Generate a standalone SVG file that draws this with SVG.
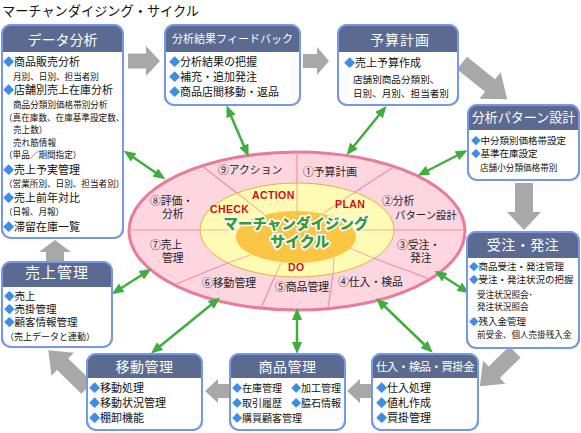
<svg xmlns="http://www.w3.org/2000/svg" width="581" height="433" viewBox="0 0 581 433">
<style>
text{font-family:'Noto Sans CJK JP','Noto Sans',sans-serif}
.box{fill:#fff;stroke:#7598e8;stroke-width:2}
.frame{fill:none;stroke:#7598e8;stroke-width:2}
.hdr{fill:#5a6a91}
.ht{fill:#fff;text-anchor:middle}
.t{fill:#111;font-size:11px}
.t10{fill:#111;font-size:10px}
.t95{fill:#111;font-size:9.5px}
.s{fill:#111;font-size:8.6px}
.d{fill:#3a8ee6}
.ga{fill:#a8a8a8}
.gl{stroke:#3fae3f;stroke-width:2.5;fill:none;marker-start:url(#ah);marker-end:url(#ah)}
.rl{stroke:#ee8fa8;stroke-width:1.2;fill:none}
.rl2{stroke:#f3b59a;stroke-width:1.1;fill:none}
.pl{fill:#222;font-size:10.8px}
.red{fill:#c8101e;font-family:'Liberation Sans',Arial,sans-serif;font-weight:bold;font-size:10.5px;letter-spacing:0.4px}
.ct{fill:#3a9a35;stroke:#fff;stroke-width:3.2;paint-order:stroke;font-weight:900;font-size:15px;text-anchor:middle;stroke-linejoin:round}
</style>
<defs>
<marker id="ah" viewBox="0 0 12 10" refX="8" refY="5" markerWidth="12" markerHeight="10" markerUnits="userSpaceOnUse" orient="auto-start-reverse">
<path d="M0,0 L12,5 L0,10 z" fill="#3fae3f"/>
</marker>
</defs>

<text x="2" y="15.5" font-size="13.2" fill="#111">マーチャンダイジング・サイクル</text>

<!-- gray flow arrows -->
<g id="flow">
<polygon class="ga" transform="translate(128,61)" points="0,-7.5 18,-7.5 18,-15 32,0 18,15 18,7.5 0,7.5"/>
<polygon class="ga" transform="translate(303,61)" points="0,-7 14,-7 14,-14 26,0 14,14 14,7 0,7"/>
<polygon class="ga" transform="translate(462,63) rotate(38.8)" points="0,-8 36,-8 36,-17 58,0 36,17 36,8 0,8"/>
<polygon class="ga" transform="translate(524,183) rotate(90)" points="0,-9 29,-9 29,-17 47,0 29,17 29,9 0,9"/>
<polygon class="ga" transform="translate(515,352) rotate(135.8)" points="0,-8 29,-8 29,-16 49,0 29,16 29,8 0,8"/>
<polygon class="ga" transform="translate(372,391) rotate(180)" points="0,-7 12,-7 12,-12 25,0 12,12 12,7 0,7"/>
<polygon class="ga" transform="translate(230,391) rotate(180)" points="0,-7 12,-7 12,-12 25,0 12,12 12,7 0,7"/>
<polygon class="ga" transform="translate(87,388) rotate(224.3)" points="0,-8 34,-8 34,-16 54,0 34,16 34,8 0,8"/>
<polygon class="ga" transform="translate(55,262) rotate(-90)" points="0,-9 10,-9 10,-16 22,0 10,16 10,9 0,9"/>
</g>

<!-- central cycle -->
<g id="cycle">
<ellipse cx="297" cy="231" rx="168" ry="79" fill="#fdd6e0" stroke="#e97c9b" stroke-width="3"/>
<ellipse cx="297" cy="230" rx="97" ry="47" fill="#fffab4" stroke="#e2b43c" stroke-width="1"/>
<path class="rl" d="M202,166 L237,193 M297,152 L297,183 M392,168 L355,192 M465,230 L394,230 M430,279 L373,258 M328,308 L333,274 M261,308 L275,276 M176,284 L228,263 M130,230 L200,230"/>
<path class="rl2" d="M237,193 L264,214 M297,183 L297,211 M355,192 L324,213 M394,230 L356,230 M373,258 L350,248 M333,274 L334,258 M275,276 L281,263 M228,263 L250,255 M200,230 L238,230"/>
<ellipse cx="296" cy="237" rx="60" ry="26" fill="#fbc643"/>
<text class="pl" x="218" y="174">⑨アクション</text>
<text class="pl" x="303" y="176">①予算計画</text>
<text class="pl" x="382" y="205">②分析</text>
<text class="pl" x="395" y="219" style="font-size:10.4px">パターン設計</text>
<text class="pl" x="397" y="249">③受注・</text>
<text class="pl" x="410" y="262">発注</text>
<text class="pl" x="338" y="286">④仕入・検品</text>
<text class="pl" x="275" y="291">⑤商品管理</text>
<text class="pl" x="202" y="287">⑥移動管理</text>
<text class="pl" x="150" y="249">⑦売上</text>
<text class="pl" x="162" y="262">管理</text>
<text class="pl" x="150" y="205">⑧評価・</text>
<text class="pl" x="162" y="218">分析</text>
<text class="red" x="252" y="199">ACTION</text>
<text class="red" x="210" y="213">CHECK</text>
<text class="red" x="335" y="208">PLAN</text>
<text class="red" x="288" y="271">DO</text>
<text class="ct" x="296" y="229" style="font-size:14.5px">マーチャンダイジング</text>
<text class="ct" x="300" y="247">サイクル</text>
</g>

<!-- green connectors -->
<g id="connectors">
<line class="gl" x1="127" y1="153" x2="162" y2="177"/>
<line class="gl" x1="228" y1="109" x2="247" y2="153"/>
<line class="gl" x1="384" y1="109" x2="349" y2="152"/>
<line class="gl" x1="464" y1="152" x2="421" y2="174"/>
<line class="gl" x1="438" y1="273" x2="466" y2="291"/>
<line class="gl" x1="379" y1="301" x2="430" y2="350"/>
<line class="gl" x1="297" y1="312" x2="297" y2="350"/>
<line class="gl" x1="217" y1="300" x2="154" y2="351"/>
<line class="gl" x1="115" y1="292" x2="148" y2="271"/>
</g>

<g id="data-analysis">
<rect class="box" x="2" y="25" width="121" height="213" rx="9"/>
<path class="hdr" d="M2,52 V34 Q2,25 11,25 H114 Q123,25 123,34 V52 Z"/>
<rect class="frame" x="2" y="25" width="121" height="213" rx="9"/>
<text class="ht" x="62.5" y="45" font-size="14">データ分析</text>
<text class="t" x="3" y="66"><tspan class="d">◆</tspan>商品販売分析</text>
<text class="s" x="13" y="80">月別、日別、担当者別</text>
<text class="t" x="3" y="94"><tspan class="d">◆</tspan>店舗別売上在庫分析</text>
<text class="s" x="13" y="108">商品分類別価格帯別分析</text>
<text class="s" x="4" y="121">（真在庫数、在庫基準設定数、</text>
<text class="s" x="13" y="133">売上数）</text>
<text class="s" x="13" y="146">売れ筋情報</text>
<text class="s" x="4" y="158">（単品／期間指定）</text>
<text class="t" x="3" y="174"><tspan class="d">◆</tspan>売上予実管理</text>
<text class="s" x="4" y="187">（営業所別、日別、担当者別）</text>
<text class="t" x="3" y="202"><tspan class="d">◆</tspan>売上前年対比</text>
<text class="s" x="4" y="215">（日報、月報）</text>
<text class="t" x="3" y="231"><tspan class="d">◆</tspan>滞留在庫一覧</text>
</g>

<g id="feedback">
<rect class="box" x="165" y="25" width="135" height="80" rx="9"/>
<path class="hdr" d="M165,52 V34 Q165,25 174,25 H291 Q300,25 300,34 V52 Z"/>
<rect class="frame" x="165" y="25" width="135" height="80" rx="9"/>
<text class="ht" x="232.5" y="43" font-size="11">分析結果フィードバック</text>
<text class="t" x="169" y="66"><tspan class="d">◆</tspan>分析結果の把握</text>
<text class="t" x="169" y="81"><tspan class="d">◆</tspan>補充・追加発注</text>
<text class="t" x="169" y="96"><tspan class="d">◆</tspan>商品店間移動・返品</text>
</g>

<g id="budget">
<rect class="box" x="338" y="25" width="120" height="80" rx="9"/>
<path class="hdr" d="M338,52 V34 Q338,25 347,25 H449 Q458,25 458,34 V52 Z"/>
<rect class="frame" x="338" y="25" width="120" height="80" rx="9"/>
<text class="ht" x="400" y="45" font-size="14" letter-spacing="1">予算計画</text>
<text class="t" x="344" y="67"><tspan class="d">◆</tspan>売上予算作成</text>
<text class="t" x="353" y="83" style="font-size:9.6px">店舗別商品分類別、</text>
<text class="t" x="353" y="97" style="font-size:9.6px">日別、月別、担当者別</text>
</g>

<g id="pattern">
<rect class="box" x="468" y="105" width="111" height="75" rx="9"/>
<path class="hdr" d="M468,130 V114 Q468,105 477,105 H570 Q579,105 579,114 V130 Z"/>
<rect class="frame" x="468" y="105" width="111" height="75" rx="9"/>
<text class="ht" x="523.5" y="122" font-size="13">分析パターン設計</text>
<text class="t95" x="471" y="144"><tspan class="d">◆</tspan>中分類別価格帯設定</text>
<text class="t95" x="471" y="157"><tspan class="d">◆</tspan>基準在庫設定</text>
<text class="s" x="480" y="171">店舗小分類価格帯別</text>
</g>

<g id="order">
<rect class="box" x="467" y="232" width="112" height="116" rx="9"/>
<path class="hdr" d="M467,258 V241 Q467,232 476,232 H570 Q579,232 579,241 V258 Z"/>
<rect class="frame" x="467" y="232" width="112" height="116" rx="9"/>
<text class="ht" x="523" y="250" font-size="14" letter-spacing="0.5">受注・発注</text>
<text class="t95" x="469" y="270"><tspan class="d">◆</tspan>商品受注・発注管理</text>
<text class="t95" x="469" y="283"><tspan class="d">◆</tspan>受注・発注状況の把握</text>
<text class="s" x="477" y="298">受注状況照会･</text>
<text class="s" x="477" y="310">発注状況照会</text>
<text class="t95" x="469" y="325"><tspan class="d">◆</tspan>残入金管理</text>
<text class="s" x="477" y="338">前受金、個人売掛残入金</text>
</g>

<g id="sales">
<rect class="box" x="2" y="262" width="110" height="85" rx="9"/>
<path class="hdr" d="M2,287 V271 Q2,262 11,262 H103 Q112,262 112,271 V287 Z"/>
<rect class="frame" x="2" y="262" width="110" height="85" rx="9"/>
<text class="ht" x="57" y="278" font-size="15" letter-spacing="1">売上管理</text>
<text class="t" x="4" y="300" style="font-size:10.5px"><tspan class="d">◆</tspan>売上</text>
<text class="t" x="4" y="313" style="font-size:10.5px"><tspan class="d">◆</tspan>売掛管理</text>
<text class="t" x="4" y="326" style="font-size:10.5px"><tspan class="d">◆</tspan>顧客情報管理</text>
<text class="s" x="5" y="340" style="font-size:9px">（売上データと連動）</text>
</g>

<g id="transfer">
<rect class="box" x="87" y="354" width="115" height="76" rx="9"/>
<path class="hdr" d="M87,378 V363 Q87,354 96,354 H193 Q202,354 202,363 V378 Z"/>
<rect class="frame" x="87" y="354" width="115" height="76" rx="9"/>
<text class="ht" x="144.5" y="372" font-size="14" letter-spacing="0.5">移動管理</text>
<text class="t" x="89" y="392"><tspan class="d">◆</tspan>移動処理</text>
<text class="t" x="89" y="407"><tspan class="d">◆</tspan>移動状況管理</text>
<text class="t" x="89" y="422"><tspan class="d">◆</tspan>棚卸機能</text>
</g>

<g id="product">
<rect class="box" x="230" y="354" width="115" height="76" rx="9"/>
<path class="hdr" d="M230,378 V363 Q230,354 239,354 H336 Q345,354 345,363 V378 Z"/>
<rect class="frame" x="230" y="354" width="115" height="76" rx="9"/>
<text class="ht" x="287.5" y="372" font-size="14" letter-spacing="0.5">商品管理</text>
<text class="t10" x="232" y="392"><tspan class="d">◆</tspan>在庫管理</text>
<text class="t10" x="291" y="392"><tspan class="d">◆</tspan>加工管理</text>
<text class="t10" x="232" y="407"><tspan class="d">◆</tspan>取引履歴</text>
<text class="t10" x="291" y="407"><tspan class="d">◆</tspan>脇石情報</text>
<text class="t10" x="232" y="422"><tspan class="d">◆</tspan>購買顧客管理</text>
</g>

<g id="purchase">
<rect class="box" x="372" y="354" width="106" height="76" rx="9"/>
<path class="hdr" d="M372,378 V363 Q372,354 381,354 H469 Q478,354 478,363 V378 Z"/>
<rect class="frame" x="372" y="354" width="106" height="76" rx="9"/>
<text class="ht" x="425" y="371" font-size="11.5" letter-spacing="-0.6">仕入・検品・買掛金</text>
<text class="t" x="376" y="392"><tspan class="d">◆</tspan>仕入処理</text>
<text class="t" x="376" y="407"><tspan class="d">◆</tspan>値札作成</text>
<text class="t" x="376" y="422"><tspan class="d">◆</tspan>買掛管理</text>
</g>
</svg>
